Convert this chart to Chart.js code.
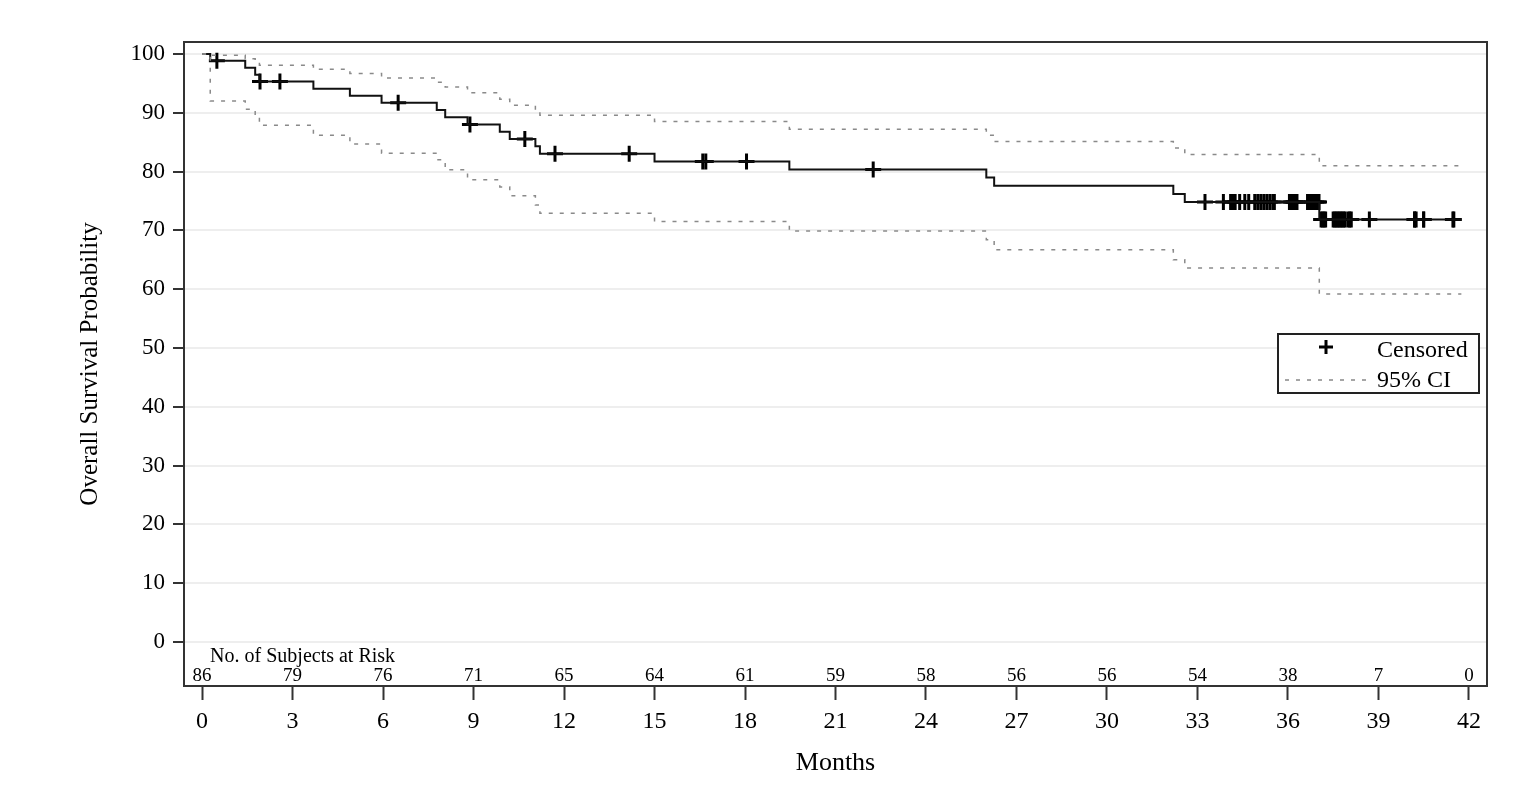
<!DOCTYPE html>
<html lang="en">
<head>
<meta charset="UTF-8">
<title>Overall Survival Probability</title>
<script src="https://cdn.jsdelivr.net/npm/chart.js"></script>
<style>
  html, body { margin: 0; padding: 0; background: #fff; }
  #wrap { width: 1530px; height: 798px; }
</style>
</head>
<body>
<div id="wrap"><canvas id="km"></canvas></div>
<script>
// Kaplan-Meier step points (time in months, survival %)
const kmTimes = [0, 0.27, 1.43, 1.76, 1.90, 3.69, 4.90, 5.95, 7.78, 8.06, 8.80, 9.87, 10.20, 11.05, 11.20,
                 15.00, 19.47, 26.00, 26.26, 32.20, 32.58, 37.04, 41.75];
const kmSurv  = [100, 98.84, 97.66, 96.49, 95.31, 94.10, 92.90, 91.69, 90.47, 89.24, 88.02, 86.78, 85.54, 84.29, 83.03,
                 81.73, 80.37, 78.98, 77.60, 76.21, 74.83, 71.84, 71.84];
// 95% CI, same step times
const ciUpper = [100, 99.8, 99.2, 98.6, 98.1, 97.4, 96.7, 95.9, 95.2, 94.4, 93.4, 92.3, 91.3, 90.4, 89.6,
                 88.5, 87.2, 86.2, 85.1, 84.0, 82.9, 81.0, 81.0];
const ciLower = [100, 92.0, 90.6, 89.2, 87.9, 86.2, 84.7, 83.1, 82.0, 80.3, 78.6, 77.4, 75.9, 74.3, 72.9,
                 71.5, 69.9, 68.4, 66.7, 65.0, 63.6, 59.2, 59.2];
// censoring times
const censorTimes = [0.49, 1.92, 2.58, 6.5, 8.88, 10.7, 11.7, 14.16, 16.6, 16.7, 18.05, 22.25,
  33.25, 33.86, 34.1, 34.17, 34.25, 34.4, 34.57, 34.7, 34.9, 35.0, 35.1, 35.2, 35.3, 35.4, 35.5, 35.55,
  36.05, 36.1, 36.15, 36.2, 36.25, 36.3, 36.65, 36.72, 36.8, 36.87, 36.94, 37.0, 37.03,
  37.1, 37.15, 37.2, 37.25, 37.5, 37.55, 37.6, 37.65, 37.7, 37.75, 37.8, 37.85, 37.9, 38.0, 38.05, 38.1, 38.7,
  40.2, 40.2, 40.25, 40.5, 40.5, 41.47, 41.5];
// number at risk
const riskTimes  = [0, 3, 6, 9, 12, 15, 18, 21, 24, 27, 30, 33, 36, 39, 42];
const riskCounts = [86, 79, 76, 71, 65, 64, 61, 59, 58, 56, 56, 54, 38, 7, 0];
const xTicks = [0, 3, 6, 9, 12, 15, 18, 21, 24, 27, 30, 33, 36, 39, 42];
const yTicks = [0, 10, 20, 30, 40, 50, 60, 70, 80, 90, 100];

const serif = '"Liberation Serif", "Times New Roman", serif';

function survAt(t) {
  let s = kmSurv[0];
  for (let i = 0; i < kmTimes.length; i++) {
    if (kmTimes[i] <= t) s = kmSurv[i];
  }
  return s;
}

const toPts = (xs, ys) => xs.map((x, i) => ({x: x, y: ys[i]}));

// box, at-risk row and legend
const extras = {
  id: 'extras',
  afterDraw(chart) {
    const {ctx, chartArea: a, scales: {x}} = chart;
    ctx.save();

    // frame around the plot
    ctx.strokeStyle = '#333';
    ctx.lineWidth = 2;
    ctx.strokeRect(a.left, a.top, a.right - a.left, a.bottom - a.top);

    // subjects at risk
    ctx.fillStyle = '#000';
    ctx.font = '19px ' + serif;
    ctx.textBaseline = 'alphabetic';
    ctx.textAlign = 'center';
    riskTimes.forEach((t, i) => {
      ctx.fillText(String(riskCounts[i]), x.getPixelForValue(t), a.bottom - 5);
    });
    ctx.textAlign = 'left';
    ctx.font = '20px ' + serif;
    ctx.fillText('No. of Subjects at Risk', x.getPixelForValue(0) + 8, a.bottom - 24);

    // legend
    const lx = a.right - 209, ly = a.top + 292, lw = 201, lh = 59;
    ctx.fillStyle = '#fff';
    ctx.fillRect(lx, ly, lw, lh);
    ctx.strokeStyle = '#222';
    ctx.lineWidth = 2;
    ctx.strokeRect(lx, ly, lw, lh);

    ctx.strokeStyle = '#000';
    ctx.lineWidth = 3;
    ctx.beginPath();
    ctx.moveTo(lx + 41, ly + 13); ctx.lineTo(lx + 55, ly + 13);
    ctx.moveTo(lx + 48, ly + 6); ctx.lineTo(lx + 48, ly + 20);
    ctx.stroke();

    ctx.strokeStyle = '#888';
    ctx.lineWidth = 1.5;
    ctx.setLineDash([4, 7]);
    ctx.beginPath();
    ctx.moveTo(lx + 7, ly + 46); ctx.lineTo(lx + 90, ly + 46);
    ctx.stroke();
    ctx.setLineDash([]);

    ctx.fillStyle = '#000';
    ctx.font = '24px ' + serif;
    ctx.fillText('Censored', lx + 99, ly + 23);
    ctx.fillText('95% CI', lx + 99, ly + 53);

    ctx.restore();
  }
};

new Chart(document.getElementById('km'), {
  type: 'line',
  data: {
    datasets: [
      {
        label: '95% CI upper',
        data: toPts(kmTimes, ciUpper),
        stepped: true,
        borderColor: '#8a8a8a',
        borderWidth: 1.5,
        borderDash: [4, 7],
        pointRadius: 0,
        fill: false
      },
      {
        label: '95% CI lower',
        data: toPts(kmTimes, ciLower),
        stepped: true,
        borderColor: '#8a8a8a',
        borderWidth: 1.5,
        borderDash: [4, 7],
        pointRadius: 0,
        fill: false
      },
      {
        label: 'Overall Survival',
        data: toPts(kmTimes, kmSurv),
        stepped: true,
        borderColor: '#111',
        borderWidth: 2,
        pointRadius: 0,
        fill: false
      },
      {
        label: 'Censored',
        data: censorTimes.map(t => ({x: t, y: survAt(t)})),
        showLine: false,
        pointStyle: 'cross',
        pointRadius: 8,
        pointBorderWidth: 3,
        pointBorderColor: '#000',
        pointBackgroundColor: '#000'
      }
    ]
  },
  options: {
    responsive: true,
    maintainAspectRatio: false,
    animation: false,
    events: [],
    layout: { padding: { top: 42, right: 43, bottom: 0, left: 60 } },
    plugins: {
      legend: { display: false },
      tooltip: { enabled: false }
    },
    scales: {
      x: {
        type: 'linear',
        min: -0.6,
        max: 42.6,
        afterBuildTicks: s => { s.ticks = xTicks.map(v => ({value: v})); },
        afterFit: s => { s.height = 112; },
        grid: { drawOnChartArea: false, drawTicks: true, tickLength: 14, tickColor: '#333', tickWidth: 2 },
        border: { display: true, color: '#333', width: 2 },
        ticks: { color: '#000', padding: 7, font: { family: serif, size: 24 }, maxRotation: 0 },
        title: { display: true, text: 'Months', color: '#000', font: { family: serif, size: 26 }, padding: { top: 0, bottom: 19 } }
      },
      y: {
        type: 'linear',
        min: -7.48,
        max: 102.04,
        afterBuildTicks: s => { s.ticks = yTicks.map(v => ({value: v})); },
        afterFit: s => { s.width = 124; },
        grid: { color: '#eeeeee', lineWidth: 2, drawTicks: true, tickLength: 11, tickColor: '#333', tickWidth: 2 },
        border: { display: true, color: '#333', width: 2 },
        ticks: { color: '#000', padding: 8, font: { family: serif, size: 23 } },
        title: { display: true, text: 'Overall Survival Probability', color: '#000', font: { family: serif, size: 25 }, padding: { top: 15, bottom: 0 } }
      }
    }
  },
  plugins: [extras]
});
</script>
</body>
</html>
